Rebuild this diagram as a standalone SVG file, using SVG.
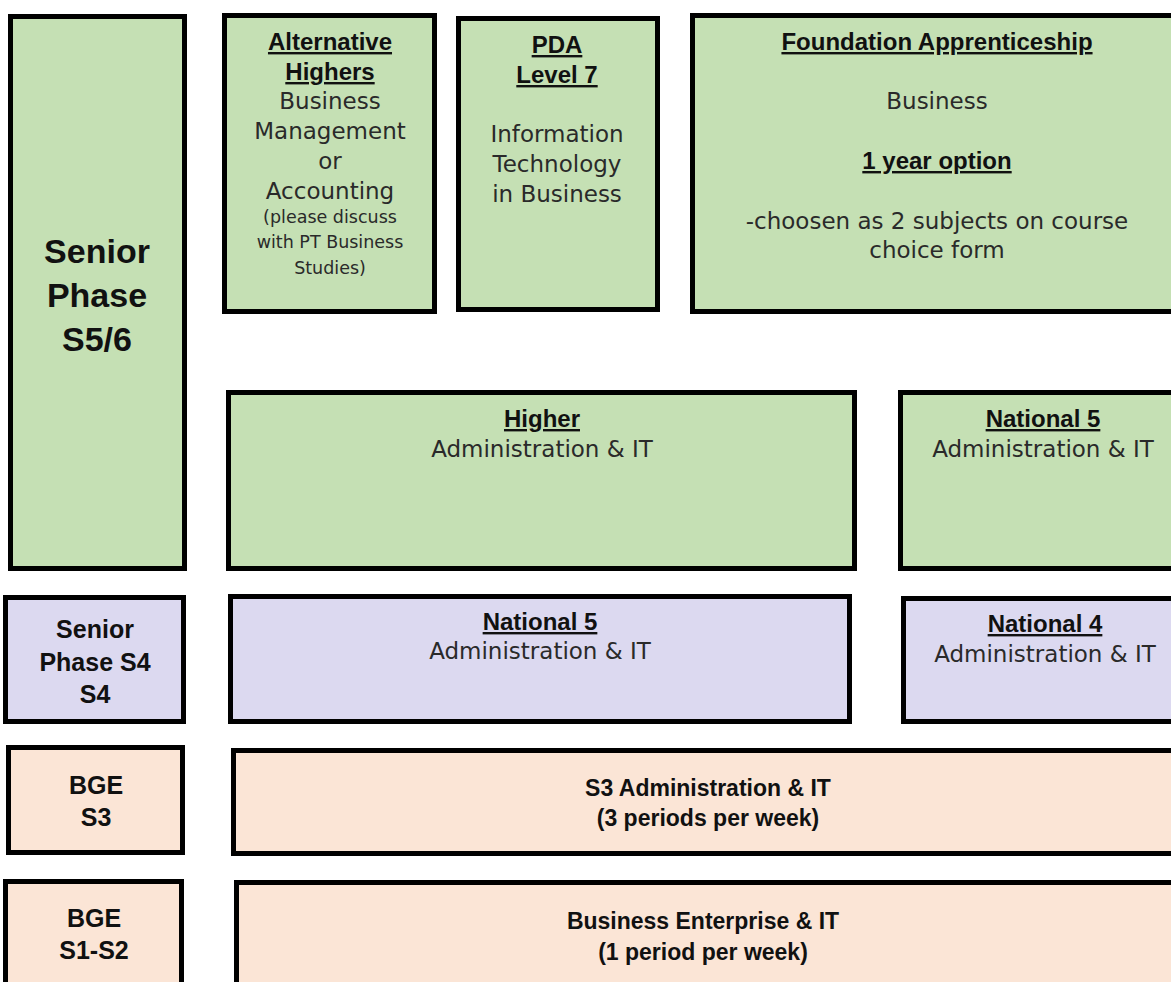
<svg xmlns="http://www.w3.org/2000/svg" width="1171" height="982" viewBox="0 0 1171 982">
<style>
.box{stroke:#000;stroke-width:5}
.g{fill:#c5e0b4}
.p{fill:#dcd9f0}
.o{fill:#fbe5d6}
text{text-anchor:middle}
.r{font-family:"DejaVu Sans","Liberation Sans",sans-serif;font-size:23px;fill:#2a2a2a}
.s{font-family:"DejaVu Sans","Liberation Sans",sans-serif;font-size:17.5px;fill:#2a2a2a}
.h{font-family:"Liberation Sans",Arial,sans-serif;font-weight:bold;font-size:24px;fill:#111;text-decoration:underline}
.b{font-family:"Liberation Sans",Arial,sans-serif;font-weight:bold;font-size:23px;fill:#111}
.L{font-family:"Liberation Sans",Arial,sans-serif;font-weight:bold;font-size:25px;fill:#111}
.XL{font-family:"Liberation Sans",Arial,sans-serif;font-weight:bold;font-size:34px;fill:#111}
</style>
<rect width="1171" height="982" fill="#fff"/>
<g id="senior-s56">
<rect class="box g" x="10.5" y="16.5" width="174" height="552"/>
<text class="XL" x="97" y="263">Senior</text>
<text class="XL" x="97" y="307">Phase</text>
<text class="XL" x="97" y="351">S5/6</text>
</g>
<g id="alt-highers">
<rect class="box g" x="224.5" y="15.5" width="210" height="296"/>
<text class="h" x="330" y="50">Alternative</text>
<text class="h" x="330" y="80">Highers</text>
<text class="r" x="330" y="109">Business</text>
<text class="r" x="330" y="139">Management</text>
<text class="r" x="330" y="169">or</text>
<text class="r" x="330" y="199">Accounting</text>
<text class="s" x="330" y="223">(please discuss</text>
<text class="s" x="330" y="248">with PT Business</text>
<text class="s" x="330" y="274">Studies)</text>
</g>
<g id="pda">
<rect class="box g" x="458.5" y="18.5" width="199" height="291"/>
<text class="h" x="557" y="53">PDA</text>
<text class="h" x="557" y="83">Level 7</text>
<text class="r" x="557" y="142">Information</text>
<text class="r" x="557" y="172">Technology</text>
<text class="r" x="557" y="202">in Business</text>
</g>
<g id="foundation">
<rect class="box g" x="692.5" y="15.5" width="500" height="296"/>
<text class="h" x="937" y="50">Foundation Apprenticeship</text>
<text class="r" x="937" y="109">Business</text>
<text class="h" x="937" y="169">1 year option</text>
<text class="r" x="937" y="229">-choosen as 2 subjects on course</text>
<text class="r" x="937" y="258">choice form</text>
</g>
<g id="higher">
<rect class="box g" x="228.5" y="392.5" width="626" height="176"/>
<text class="h" x="542" y="427">Higher</text>
<text class="r" x="542" y="457">Administration &amp; IT</text>
</g>
<g id="nat5-senior">
<rect class="box g" x="900.5" y="392.5" width="300" height="176"/>
<text class="h" x="1043" y="427">National 5</text>
<text class="r" x="1043" y="457">Administration &amp; IT</text>
</g>
<g id="senior-s4">
<rect class="box p" x="5.5" y="597.5" width="178" height="124"/>
<text class="L" x="95" y="638">Senior</text>
<text class="L" x="95" y="671">Phase S4</text>
<text class="L" x="95" y="703">S4</text>
</g>
<g id="nat5-s4">
<rect class="box p" x="230.5" y="596.5" width="619" height="125"/>
<text class="h" x="540" y="630">National 5</text>
<text class="r" x="540" y="659">Administration &amp; IT</text>
</g>
<g id="nat4">
<rect class="box p" x="903.5" y="598.5" width="300" height="123"/>
<text class="h" x="1045" y="632">National 4</text>
<text class="r" x="1045" y="662">Administration &amp; IT</text>
</g>
<g id="bge-s3">
<rect class="box o" x="8.5" y="747.5" width="174" height="105"/>
<text class="L" x="96" y="794">BGE</text>
<text class="L" x="96" y="826">S3</text>
</g>
<g id="s3-admin">
<rect class="box o" x="233.5" y="750.5" width="960" height="103"/>
<text class="b" x="708" y="796">S3 Administration &amp; IT</text>
<text class="b" x="708" y="826">(3 periods per week)</text>
</g>
<g id="bge-s1s2">
<rect class="box o" x="5.5" y="881.5" width="176" height="120"/>
<text class="L" x="94" y="927">BGE</text>
<text class="L" x="94" y="959">S1-S2</text>
</g>
<g id="business-enterprise">
<rect class="box o" x="236.5" y="882.5" width="960" height="120"/>
<text class="b" x="703" y="929">Business Enterprise &amp; IT</text>
<text class="b" x="703" y="960">(1 period per week)</text>
</g>
<g id="connectors"></g>
</svg>
